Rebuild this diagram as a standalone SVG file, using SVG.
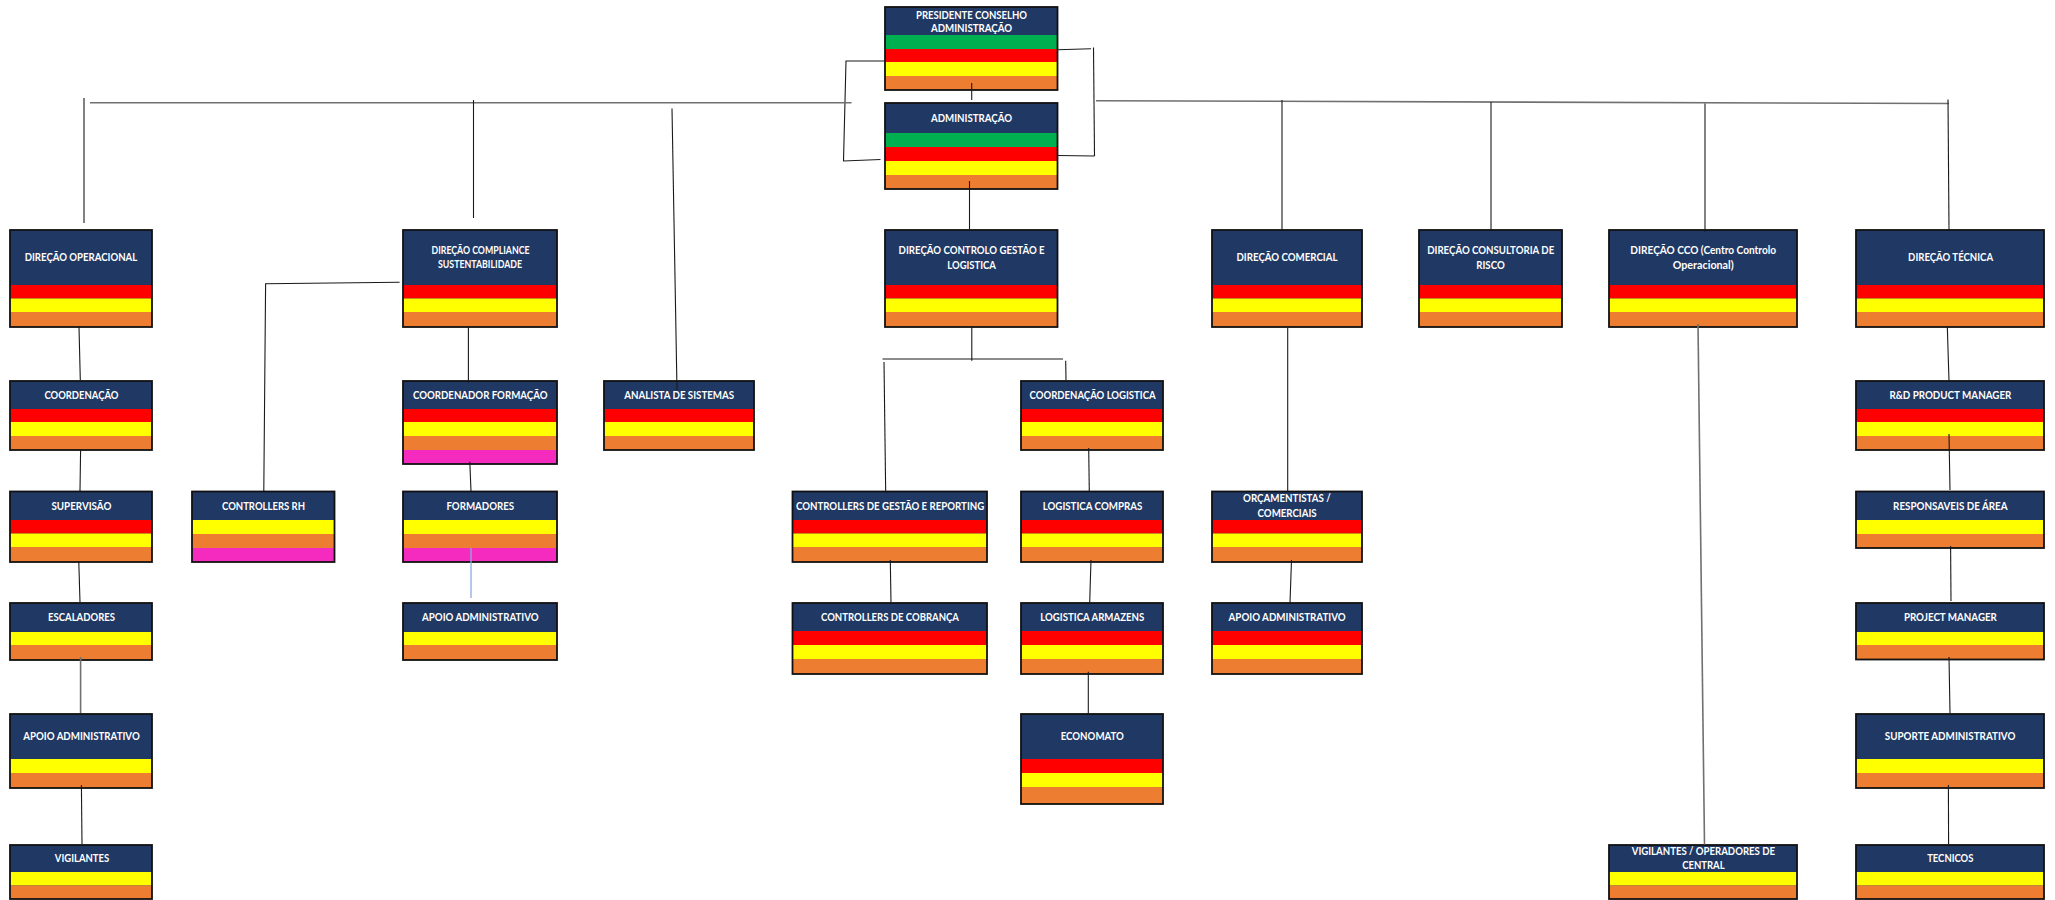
<svg xmlns="http://www.w3.org/2000/svg" width="2055" height="900" viewBox="0 0 2055 900">
<style>
.bg{fill:#ffffff}
.nv{fill:#203864}
.g{fill:#00B050}
.r{fill:#FF0000}
.y{fill:#FFFF00}
.o{fill:#ED7D31}
.p{fill:#F52BBF}
.bd{fill:none;stroke:#111111;stroke-width:1.8}
.t{font-family:Lato,"Liberation Sans",sans-serif;font-weight:700;font-size:11px;fill:#ffffff;text-anchor:middle}
.c{fill:none;stroke:#1a1a1a;stroke-width:1.1}
.cg{stroke:#707070;stroke-width:1.6}
.cb{stroke:#8FAADC;stroke-width:1.3}
</style>
<rect class="bg" x="0" y="0" width="2055" height="900"/>

<g id="nodes">
<g id="presidente">
<rect class="nv" x="885" y="7" width="172.5" height="83"/>
<rect class="g" x="885" y="35" width="172.5" height="14"/>
<rect class="r" x="885" y="49" width="172.5" height="13"/>
<rect class="y" x="885" y="62" width="172.5" height="14"/>
<rect class="o" x="885" y="76" width="172.5" height="14"/>
<rect class="bd" x="885" y="7" width="172.5" height="83"/>
<text class="t" x="971.5" y="18.5" textLength="111" lengthAdjust="spacingAndGlyphs">PRESIDENTE CONSELHO</text>
<text class="t" x="971.5" y="31.5" textLength="81" lengthAdjust="spacingAndGlyphs">ADMINISTRAÇÃO</text>
</g>
<g id="administracao">
<rect class="nv" x="885" y="103" width="172.5" height="86"/>
<rect class="g" x="885" y="133" width="172.5" height="14"/>
<rect class="r" x="885" y="147" width="172.5" height="14"/>
<rect class="y" x="885" y="161" width="172.5" height="14"/>
<rect class="o" x="885" y="175" width="172.5" height="14"/>
<rect class="bd" x="885" y="103" width="172.5" height="86"/>
<text class="t" x="971.5" y="121.7" textLength="81" lengthAdjust="spacingAndGlyphs">ADMINISTRAÇÃO</text>
</g>

<g id="direcao-operacional">
<rect class="nv" x="10" y="230" width="142" height="97"/>
<rect class="r" x="10" y="285" width="142" height="13.5"/>
<rect class="y" x="10" y="298.5" width="142" height="13.5"/>
<rect class="o" x="10" y="312" width="142" height="15"/>
<rect class="bd" x="10" y="230" width="142" height="97"/>
<text class="t" x="81" y="261.3" textLength="112.6" lengthAdjust="spacingAndGlyphs">DIREÇÃO OPERACIONAL</text>
</g>
<g id="direcao-compliance">
<rect class="nv" x="403" y="230" width="154" height="97"/>
<rect class="r" x="403" y="285" width="154" height="13.5"/>
<rect class="y" x="403" y="298.5" width="154" height="13.5"/>
<rect class="o" x="403" y="312" width="154" height="15"/>
<rect class="bd" x="403" y="230" width="154" height="97"/>
<text class="t" x="480.5" y="254.3" textLength="98" lengthAdjust="spacingAndGlyphs">DIREÇÃO COMPLIANCE</text>
<text class="t" x="480" y="267.7" textLength="84" lengthAdjust="spacingAndGlyphs">SUSTENTABILIDADE</text>
</g>
<g id="direcao-controlo">
<rect class="nv" x="885" y="230" width="172.5" height="97"/>
<rect class="r" x="885" y="285" width="172.5" height="13.5"/>
<rect class="y" x="885" y="298.5" width="172.5" height="13.5"/>
<rect class="o" x="885" y="312" width="172.5" height="15"/>
<rect class="bd" x="885" y="230" width="172.5" height="97"/>
<text class="t" x="971.6" y="254.3" textLength="146" lengthAdjust="spacingAndGlyphs">DIREÇÃO CONTROLO GESTÃO E</text>
<text class="t" x="971.6" y="269.3" textLength="48.6" lengthAdjust="spacingAndGlyphs">LOGISTICA</text>
</g>
<g id="direcao-comercial">
<rect class="nv" x="1212" y="230" width="150" height="97"/>
<rect class="r" x="1212" y="285" width="150" height="13.5"/>
<rect class="y" x="1212" y="298.5" width="150" height="13.5"/>
<rect class="o" x="1212" y="312" width="150" height="15"/>
<rect class="bd" x="1212" y="230" width="150" height="97"/>
<text class="t" x="1287" y="261.3" textLength="101" lengthAdjust="spacingAndGlyphs">DIREÇÃO COMERCIAL</text>
</g>
<g id="direcao-consultoria">
<rect class="nv" x="1419" y="230" width="143" height="97"/>
<rect class="r" x="1419" y="285" width="143" height="13.5"/>
<rect class="y" x="1419" y="298.5" width="143" height="13.5"/>
<rect class="o" x="1419" y="312" width="143" height="15"/>
<rect class="bd" x="1419" y="230" width="143" height="97"/>
<text class="t" x="1490.7" y="254.3" textLength="127" lengthAdjust="spacingAndGlyphs">DIREÇÃO CONSULTORIA DE</text>
<text class="t" x="1490.5" y="269.3" textLength="28.5" lengthAdjust="spacingAndGlyphs">RISCO</text>
</g>
<g id="direcao-cco">
<rect class="nv" x="1609" y="230" width="188" height="97"/>
<rect class="r" x="1609" y="285" width="188" height="13.5"/>
<rect class="y" x="1609" y="298.5" width="188" height="13.5"/>
<rect class="o" x="1609" y="312" width="188" height="15"/>
<rect class="bd" x="1609" y="230" width="188" height="97"/>
<text class="t" x="1703.2" y="254.3" textLength="145.7" lengthAdjust="spacingAndGlyphs">DIREÇÃO CCO (Centro Controlo</text>
<text class="t" x="1703.2" y="269.3" textLength="61" lengthAdjust="spacingAndGlyphs">Operacional)</text>
</g>
<g id="direcao-tecnica">
<rect class="nv" x="1856" y="230" width="188" height="97"/>
<rect class="r" x="1856" y="285" width="188" height="13.5"/>
<rect class="y" x="1856" y="298.5" width="188" height="13.5"/>
<rect class="o" x="1856" y="312" width="188" height="15"/>
<rect class="bd" x="1856" y="230" width="188" height="97"/>
<text class="t" x="1950.6" y="261.3" textLength="85" lengthAdjust="spacingAndGlyphs">DIREÇÃO TÉCNICA</text>
</g>

<g id="coordenacao">
<rect class="nv" x="10" y="381" width="142" height="69"/>
<rect class="r" x="10" y="409" width="142" height="13"/>
<rect class="y" x="10" y="422" width="142" height="14"/>
<rect class="o" x="10" y="436" width="142" height="14"/>
<rect class="bd" x="10" y="381" width="142" height="69"/>
<text class="t" x="81.4" y="399" textLength="74" lengthAdjust="spacingAndGlyphs">COORDENAÇÃO</text>
</g>
<g id="coordenador-formacao">
<rect class="nv" x="403" y="381" width="154" height="83"/>
<rect class="r" x="403" y="409" width="154" height="13"/>
<rect class="y" x="403" y="422" width="154" height="14"/>
<rect class="o" x="403" y="436" width="154" height="14"/>
<rect class="p" x="403" y="450" width="154" height="14"/>
<rect class="bd" x="403" y="381" width="154" height="83"/>
<text class="t" x="480.2" y="399" textLength="134.5" lengthAdjust="spacingAndGlyphs">COORDENADOR FORMAÇÃO</text>
</g>
<g id="analista-sistemas">
<rect class="nv" x="604" y="381" width="150" height="69"/>
<rect class="r" x="604" y="409" width="150" height="13"/>
<rect class="y" x="604" y="422" width="150" height="14"/>
<rect class="o" x="604" y="436" width="150" height="14"/>
<rect class="bd" x="604" y="381" width="150" height="69"/>
<text class="t" x="679.2" y="399" textLength="110" lengthAdjust="spacingAndGlyphs">ANALISTA DE SISTEMAS</text>
</g>
<g id="coordenacao-logistica">
<rect class="nv" x="1021" y="381" width="142" height="69"/>
<rect class="r" x="1021" y="409" width="142" height="13"/>
<rect class="y" x="1021" y="422" width="142" height="14"/>
<rect class="o" x="1021" y="436" width="142" height="14"/>
<rect class="bd" x="1021" y="381" width="142" height="69"/>
<text class="t" x="1092.6" y="399" textLength="126" lengthAdjust="spacingAndGlyphs">COORDENAÇÃO LOGISTICA</text>
</g>
<g id="rd-product-manager">
<rect class="nv" x="1856" y="381" width="188" height="69"/>
<rect class="r" x="1856" y="409" width="188" height="13"/>
<rect class="y" x="1856" y="422" width="188" height="14"/>
<rect class="o" x="1856" y="436" width="188" height="14"/>
<rect class="bd" x="1856" y="381" width="188" height="69"/>
<text class="t" x="1950.4" y="399" textLength="122" lengthAdjust="spacingAndGlyphs">R&amp;D PRODUCT MANAGER</text>
</g>

<g id="supervisao">
<rect class="nv" x="10" y="491.5" width="142" height="70.5"/>
<rect class="r" x="10" y="520" width="142" height="13.5"/>
<rect class="y" x="10" y="533.5" width="142" height="13.5"/>
<rect class="o" x="10" y="547" width="142" height="15"/>
<rect class="bd" x="10" y="491.5" width="142" height="70.5"/>
<text class="t" x="81.4" y="510" textLength="60" lengthAdjust="spacingAndGlyphs">SUPERVISÃO</text>
</g>
<g id="controllers-rh">
<rect class="nv" x="192" y="491.5" width="142.5" height="70.5"/>
<rect class="y" x="192" y="520" width="142.5" height="14"/>
<rect class="o" x="192" y="534" width="142.5" height="14"/>
<rect class="p" x="192" y="548" width="142.5" height="14"/>
<rect class="bd" x="192" y="491.5" width="142.5" height="70.5"/>
<text class="t" x="263.5" y="510" textLength="83" lengthAdjust="spacingAndGlyphs">CONTROLLERS RH</text>
</g>
<g id="formadores">
<rect class="nv" x="403" y="491.5" width="154" height="70.5"/>
<rect class="y" x="403" y="520" width="154" height="14"/>
<rect class="o" x="403" y="534" width="154" height="14"/>
<rect class="p" x="403" y="548" width="154" height="14"/>
<rect class="bd" x="403" y="491.5" width="154" height="70.5"/>
<text class="t" x="480.3" y="510" textLength="67.7" lengthAdjust="spacingAndGlyphs">FORMADORES</text>
</g>
<g id="controllers-gestao-reporting">
<rect class="nv" x="792.5" y="491.5" width="194.5" height="70.5"/>
<rect class="r" x="792.5" y="520" width="194.5" height="13.5"/>
<rect class="y" x="792.5" y="533.5" width="194.5" height="13.5"/>
<rect class="o" x="792.5" y="547" width="194.5" height="15"/>
<rect class="bd" x="792.5" y="491.5" width="194.5" height="70.5"/>
<text class="t" x="890.1" y="510" textLength="188.3" lengthAdjust="spacingAndGlyphs">CONTROLLERS DE GESTÃO E REPORTING</text>
</g>
<g id="logistica-compras">
<rect class="nv" x="1021" y="491.5" width="142" height="70.5"/>
<rect class="r" x="1021" y="520" width="142" height="13.5"/>
<rect class="y" x="1021" y="533.5" width="142" height="13.5"/>
<rect class="o" x="1021" y="547" width="142" height="15"/>
<rect class="bd" x="1021" y="491.5" width="142" height="70.5"/>
<text class="t" x="1092.5" y="510" textLength="99.7" lengthAdjust="spacingAndGlyphs">LOGISTICA COMPRAS</text>
</g>
<g id="orcamentistas">
<rect class="nv" x="1212" y="491.5" width="150" height="70.5"/>
<rect class="r" x="1212" y="520" width="150" height="13.5"/>
<rect class="y" x="1212" y="533.5" width="150" height="13.5"/>
<rect class="o" x="1212" y="547" width="150" height="15"/>
<rect class="bd" x="1212" y="491.5" width="150" height="70.5"/>
<text class="t" x="1286.9" y="501.7" textLength="87.7" lengthAdjust="spacingAndGlyphs">ORÇAMENTISTAS /</text>
<text class="t" x="1287.1" y="516.5" textLength="59" lengthAdjust="spacingAndGlyphs">COMERCIAIS</text>
</g>
<g id="responsaveis-area">
<rect class="nv" x="1856" y="491.5" width="188" height="56.5"/>
<rect class="y" x="1856" y="520" width="188" height="14"/>
<rect class="o" x="1856" y="534" width="188" height="14"/>
<rect class="bd" x="1856" y="491.5" width="188" height="56.5"/>
<text class="t" x="1950.3" y="510" textLength="114.4" lengthAdjust="spacingAndGlyphs">RESPONSAVEIS DE ÁREA</text>
</g>

<g id="escaladores">
<rect class="nv" x="10" y="603" width="142" height="57"/>
<rect class="y" x="10" y="632" width="142" height="13"/>
<rect class="o" x="10" y="645" width="142" height="15"/>
<rect class="bd" x="10" y="603" width="142" height="57"/>
<text class="t" x="81.5" y="620.7" textLength="67" lengthAdjust="spacingAndGlyphs">ESCALADORES</text>
</g>
<g id="apoio-administrativo-compliance">
<rect class="nv" x="403" y="603" width="154" height="57"/>
<rect class="y" x="403" y="632" width="154" height="13"/>
<rect class="o" x="403" y="645" width="154" height="15"/>
<rect class="bd" x="403" y="603" width="154" height="57"/>
<text class="t" x="480.3" y="620.7" textLength="116.5" lengthAdjust="spacingAndGlyphs">APOIO ADMINISTRATIVO</text>
</g>
<g id="controllers-cobranca">
<rect class="nv" x="792.5" y="603" width="194.5" height="71"/>
<rect class="r" x="792.5" y="631" width="194.5" height="14"/>
<rect class="y" x="792.5" y="645" width="194.5" height="14"/>
<rect class="o" x="792.5" y="659" width="194.5" height="15"/>
<rect class="bd" x="792.5" y="603" width="194.5" height="71"/>
<text class="t" x="890" y="620.7" textLength="138" lengthAdjust="spacingAndGlyphs">CONTROLLERS DE COBRANÇA</text>
</g>
<g id="logistica-armazens">
<rect class="nv" x="1021" y="603" width="142" height="71"/>
<rect class="r" x="1021" y="631" width="142" height="14"/>
<rect class="y" x="1021" y="645" width="142" height="14"/>
<rect class="o" x="1021" y="659" width="142" height="15"/>
<rect class="bd" x="1021" y="603" width="142" height="71"/>
<text class="t" x="1092.3" y="620.7" textLength="104" lengthAdjust="spacingAndGlyphs">LOGISTICA ARMAZENS</text>
</g>
<g id="apoio-administrativo-comercial">
<rect class="nv" x="1212" y="603" width="150" height="71"/>
<rect class="r" x="1212" y="631" width="150" height="14"/>
<rect class="y" x="1212" y="645" width="150" height="14"/>
<rect class="o" x="1212" y="659" width="150" height="15"/>
<rect class="bd" x="1212" y="603" width="150" height="71"/>
<text class="t" x="1287.1" y="620.7" textLength="117" lengthAdjust="spacingAndGlyphs">APOIO ADMINISTRATIVO</text>
</g>
<g id="project-manager">
<rect class="nv" x="1856" y="603" width="188" height="56.5"/>
<rect class="y" x="1856" y="632" width="188" height="13"/>
<rect class="o" x="1856" y="645" width="188" height="14.5"/>
<rect class="bd" x="1856" y="603" width="188" height="56.5"/>
<text class="t" x="1950.4" y="620.7" textLength="93" lengthAdjust="spacingAndGlyphs">PROJECT MANAGER</text>
</g>

<g id="apoio-administrativo-operacional">
<rect class="nv" x="10" y="714" width="142" height="74"/>
<rect class="y" x="10" y="759" width="142" height="14"/>
<rect class="o" x="10" y="773" width="142" height="15"/>
<rect class="bd" x="10" y="714" width="142" height="74"/>
<text class="t" x="81.5" y="740" textLength="116.5" lengthAdjust="spacingAndGlyphs">APOIO ADMINISTRATIVO</text>
</g>
<g id="economato">
<rect class="nv" x="1021" y="714" width="142" height="90"/>
<rect class="r" x="1021" y="759" width="142" height="14"/>
<rect class="y" x="1021" y="773" width="142" height="14"/>
<rect class="o" x="1021" y="787" width="142" height="17"/>
<rect class="bd" x="1021" y="714" width="142" height="90"/>
<text class="t" x="1092.3" y="740" textLength="63.3" lengthAdjust="spacingAndGlyphs">ECONOMATO</text>
</g>
<g id="suporte-administrativo">
<rect class="nv" x="1856" y="714" width="188" height="74"/>
<rect class="y" x="1856" y="759" width="188" height="14"/>
<rect class="o" x="1856" y="773" width="188" height="15"/>
<rect class="bd" x="1856" y="714" width="188" height="74"/>
<text class="t" x="1950.1" y="740" textLength="130.6" lengthAdjust="spacingAndGlyphs">SUPORTE ADMINISTRATIVO</text>
</g>

<g id="vigilantes">
<rect class="nv" x="10" y="845" width="142" height="54"/>
<rect class="y" x="10" y="872" width="142" height="13.5"/>
<rect class="o" x="10" y="885.5" width="142" height="13.5"/>
<rect class="bd" x="10" y="845" width="142" height="54"/>
<text class="t" x="82" y="862" textLength="54.3" lengthAdjust="spacingAndGlyphs">VIGILANTES</text>
</g>
<g id="vigilantes-operadores-central">
<rect class="nv" x="1609" y="845" width="188" height="54"/>
<rect class="y" x="1609" y="872" width="188" height="13.5"/>
<rect class="o" x="1609" y="885.5" width="188" height="13.5"/>
<rect class="bd" x="1609" y="845" width="188" height="54"/>
<text class="t" x="1703.4" y="855" textLength="143.3" lengthAdjust="spacingAndGlyphs">VIGILANTES / OPERADORES DE</text>
<text class="t" x="1703.4" y="869" textLength="42.4" lengthAdjust="spacingAndGlyphs">CENTRAL</text>
</g>
<g id="tecnicos">
<rect class="nv" x="1856" y="845" width="188" height="54"/>
<rect class="y" x="1856" y="872" width="188" height="13.5"/>
<rect class="o" x="1856" y="885.5" width="188" height="13.5"/>
<rect class="bd" x="1856" y="845" width="188" height="54"/>
<text class="t" x="1950.3" y="862" textLength="46.3" lengthAdjust="spacingAndGlyphs">TECNICOS</text>
</g>
</g>

<g id="connectors" class="c">
<line x1="971.7" y1="83" x2="971.7" y2="100"/>
<polyline points="885,61 846,61 843.5,161 880.5,159.5"/>
<line x1="1057.5" y1="49.7" x2="1091" y2="48.7"/>
<line x1="1093.5" y1="47.5" x2="1094.5" y2="156"/>
<line x1="1057.5" y1="155.5" x2="1094.5" y2="156"/>
<line class="cg" x1="90" y1="102.7" x2="851.5" y2="102.7"/>
<line class="cg" x1="1096" y1="100.7" x2="1949" y2="103.5"/>
<line x1="84" y1="98" x2="84" y2="223"/>
<line x1="473.5" y1="100" x2="473.5" y2="218"/>
<line x1="672" y1="108.5" x2="677" y2="390"/>
<line x1="969.5" y1="181" x2="969.5" y2="229"/>
<line x1="1282" y1="100" x2="1282" y2="231"/>
<line x1="1491" y1="102" x2="1491" y2="230"/>
<line x1="1705" y1="103.5" x2="1705" y2="232"/>
<line x1="1948" y1="99.5" x2="1949" y2="230"/>

<line x1="79" y1="327" x2="80.3" y2="380"/>
<line x1="80.6" y1="450" x2="80" y2="491"/>
<line x1="78.8" y1="562" x2="80" y2="602"/>
<line class="cg" x1="80.6" y1="657" x2="80.6" y2="713"/>
<line x1="81.4" y1="785" x2="82" y2="844"/>

<polyline points="399.6,282.3 265.6,283.7 263.8,491"/>
<line x1="468.4" y1="327" x2="468.4" y2="383"/>
<line x1="469.8" y1="461.7" x2="471" y2="491"/>
<line class="cb" x1="471" y1="548" x2="471" y2="598"/>

<line x1="971.8" y1="327" x2="971.8" y2="360.7"/>
<line x1="882.5" y1="359" x2="1063" y2="359"/>
<line x1="884" y1="362" x2="885.7" y2="493"/>
<line x1="1065.7" y1="360.7" x2="1066" y2="380.7"/>
<line x1="890.3" y1="560" x2="891" y2="602.7"/>
<line x1="1088.7" y1="448" x2="1089.3" y2="491.7"/>
<line x1="1091" y1="560" x2="1089.7" y2="602.7"/>
<line x1="1088.3" y1="671.7" x2="1088.3" y2="714"/>

<line x1="1287.7" y1="327.7" x2="1287.7" y2="491.7"/>
<line x1="1291.5" y1="560" x2="1290" y2="602.7"/>
<line class="cg" x1="1698" y1="324" x2="1704.5" y2="844.5"/>

<line x1="1947.3" y1="326" x2="1949" y2="380.7"/>
<line x1="1949" y1="434" x2="1950" y2="490"/>
<line x1="1950.6" y1="546" x2="1951" y2="601"/>
<line x1="1949" y1="657" x2="1950" y2="713"/>
<line x1="1948.4" y1="785" x2="1948.6" y2="846"/>
</g>
</svg>
